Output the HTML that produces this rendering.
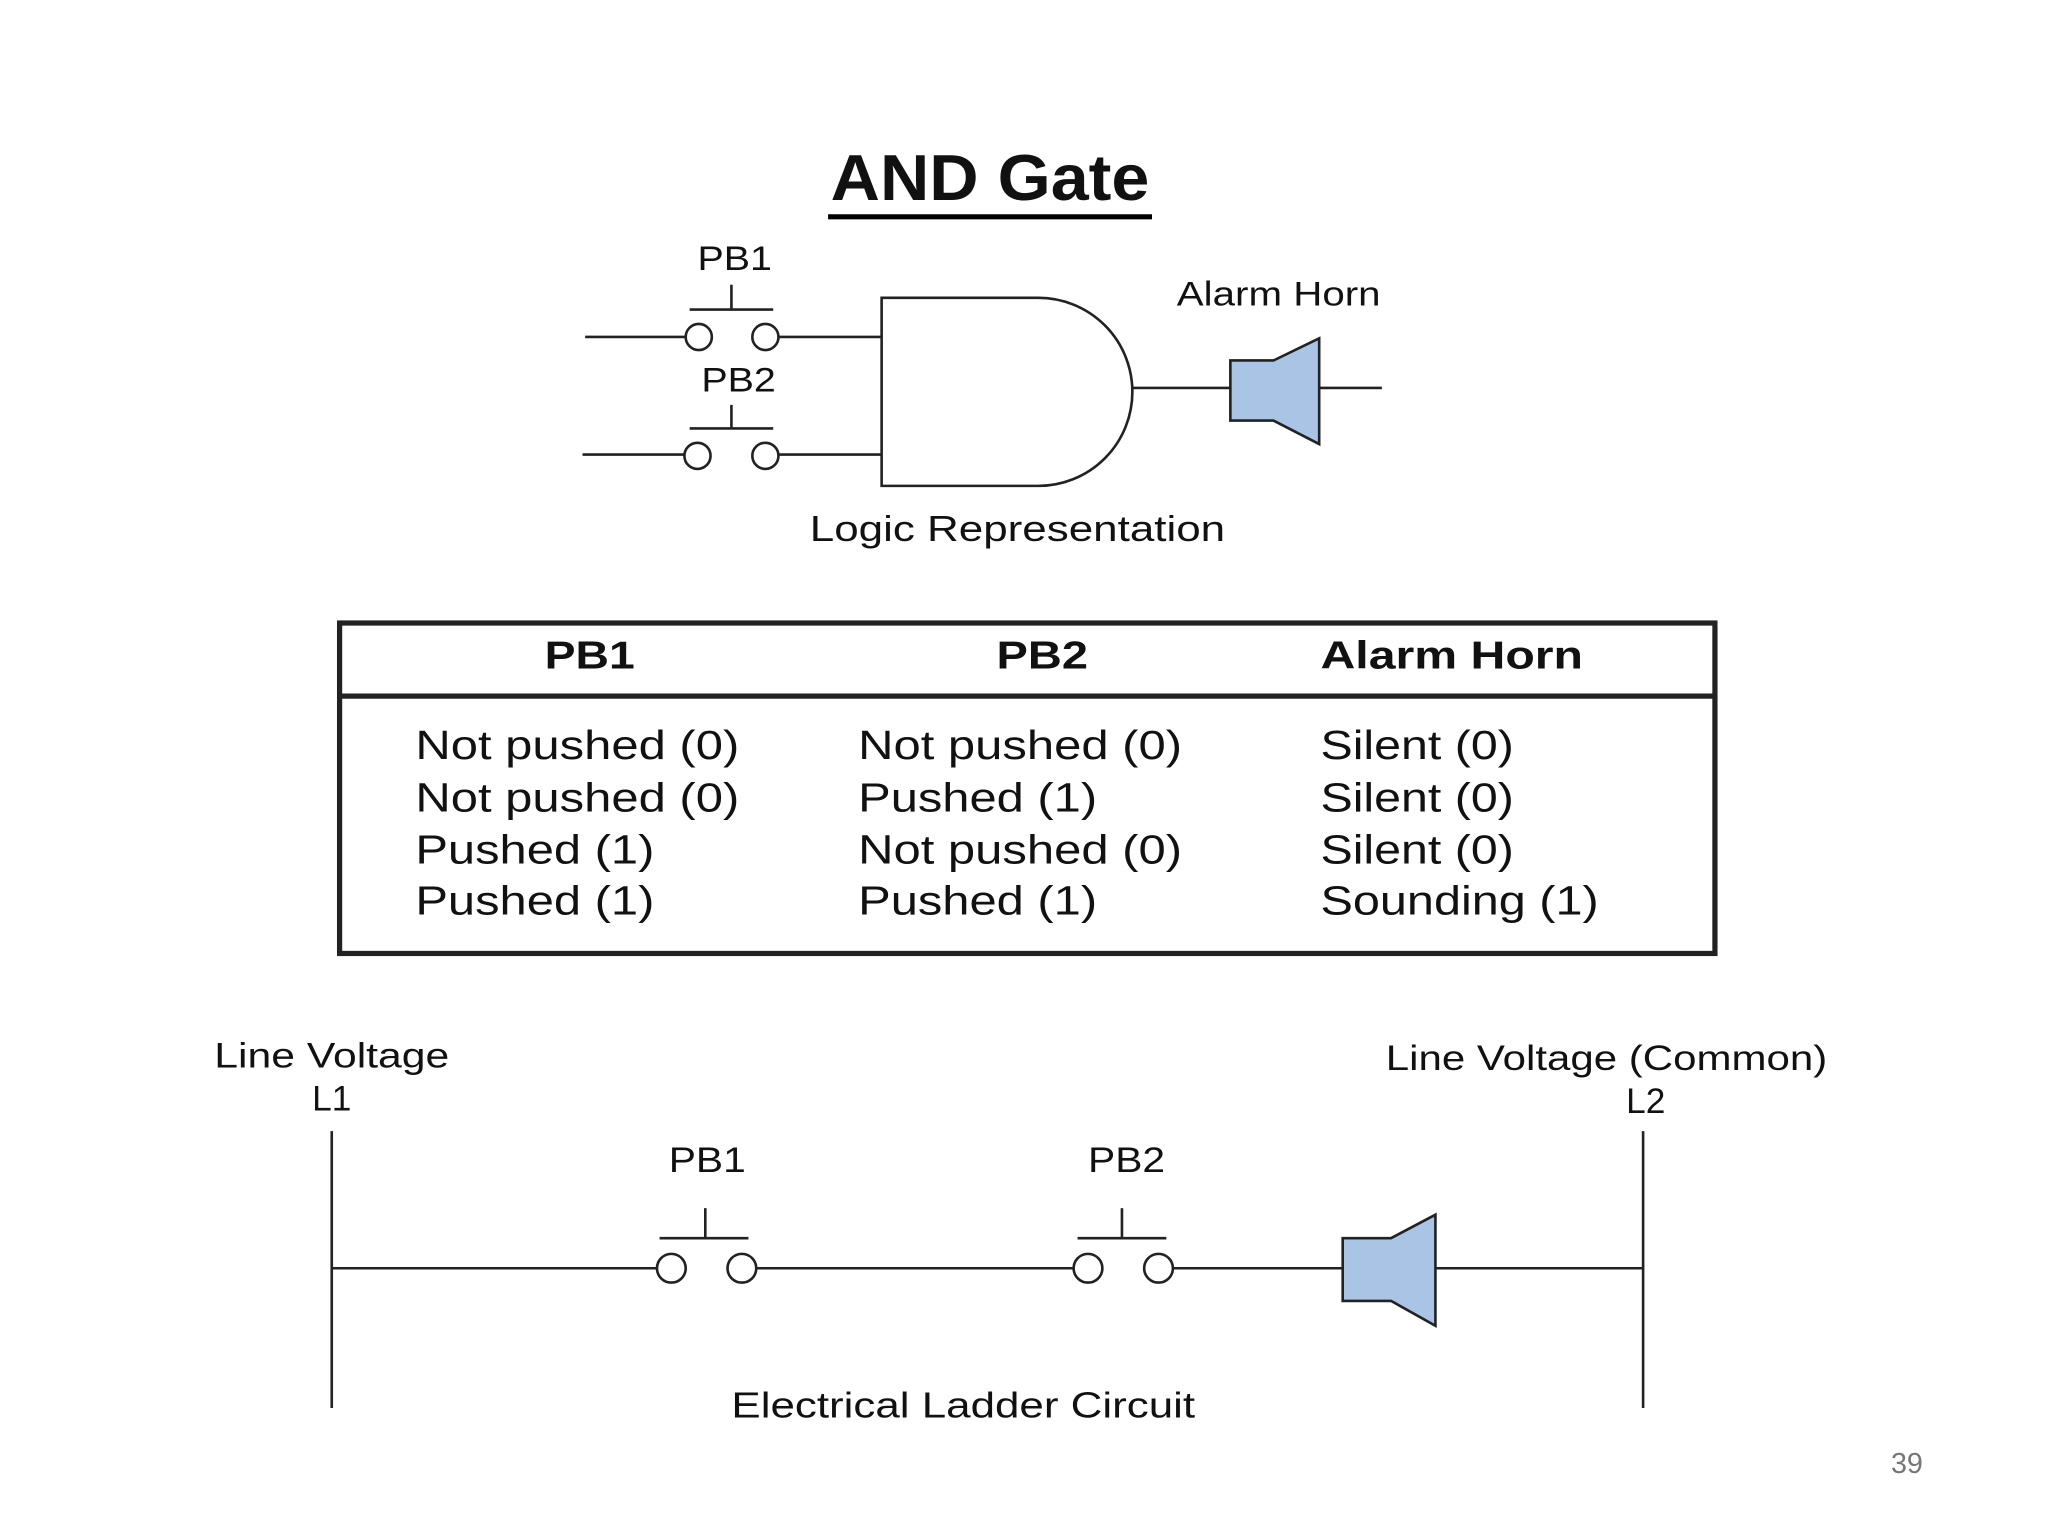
<!DOCTYPE html>
<html><head><meta charset="utf-8"><style>
html,body{margin:0;padding:0;background:#fff;}
svg{display:block;}
text{font-family:"Liberation Sans",Arial,sans-serif;fill:#111;}
</style></head><body>
<svg width="2048" height="1536" viewBox="0 0 1568 1176" xmlns="http://www.w3.org/2000/svg">
<rect width="1568" height="1176" fill="#fff"/>
<text x="636" y="140" font-size="50" font-weight="bold" dominant-baseline="middle" textLength="244" lengthAdjust="spacingAndGlyphs">AND Gate</text>
<line x1="634" y1="166" x2="882" y2="166" stroke="#000" stroke-width="4"/>
<g stroke="#222" stroke-width="2" fill="none">
<line x1="528" y1="237" x2="592" y2="237"/><line x1="560" y1="218" x2="560" y2="237"/>
<circle cx="535" cy="258" r="10" fill="#fff"/><circle cx="586" cy="258" r="10" fill="#fff"/>
<line x1="448" y1="258" x2="525" y2="258"/><line x1="596" y1="258" x2="675" y2="258"/>
<line x1="528" y1="328" x2="592" y2="328"/><line x1="560" y1="310" x2="560" y2="328"/>
<circle cx="534" cy="349" r="10" fill="#fff"/><circle cx="586" cy="349" r="10" fill="#fff"/>
<line x1="446" y1="348" x2="524" y2="348"/><line x1="596" y1="348" x2="675" y2="348"/>
<path d="M675,228 H795 A72,72 0 0 1 795,372 H675 Z"/>
<line x1="867" y1="297" x2="942" y2="297"/>
<line x1="1010" y1="297" x2="1058" y2="297"/>
<polygon points="942,276 975,276 1010,259 1010,340 975,322 942,322" fill="#a9c4e4"/>
</g>
<g font-size="26" dominant-baseline="middle" lengthAdjust="spacingAndGlyphs">
<text x="534" y="200" dominant-baseline="middle" textLength="57" lengthAdjust="spacingAndGlyphs">PB1</text>
<text x="537" y="293" dominant-baseline="middle" textLength="57" lengthAdjust="spacingAndGlyphs">PB2</text>
<text x="901" y="227" dominant-baseline="middle" textLength="156" lengthAdjust="spacingAndGlyphs">Alarm Horn</text>
</g>
<text x="620" y="407" font-size="28" dominant-baseline="middle" textLength="318" lengthAdjust="spacingAndGlyphs">Logic Representation</text>
<rect x="260" y="477" width="1053" height="253" fill="none" stroke="#222" stroke-width="4"/>
<line x1="260" y1="533" x2="1313" y2="533" stroke="#222" stroke-width="4"/>
<g font-size="30" font-weight="bold">
<text x="417" y="504" dominant-baseline="middle" textLength="69" lengthAdjust="spacingAndGlyphs">PB1</text>
<text x="763" y="504" dominant-baseline="middle" textLength="70" lengthAdjust="spacingAndGlyphs">PB2</text>
<text x="1011" y="504" dominant-baseline="middle" textLength="201" lengthAdjust="spacingAndGlyphs">Alarm Horn</text>
</g>
<g font-size="31">
<text x="318" y="573" dominant-baseline="middle" textLength="248" lengthAdjust="spacingAndGlyphs">Not pushed (0)</text>
<text x="318" y="613" dominant-baseline="middle" textLength="248" lengthAdjust="spacingAndGlyphs">Not pushed (0)</text>
<text x="318" y="653" dominant-baseline="middle" textLength="183" lengthAdjust="spacingAndGlyphs">Pushed (1)</text>
<text x="318" y="692" dominant-baseline="middle" textLength="183" lengthAdjust="spacingAndGlyphs">Pushed (1)</text>
<text x="657" y="573" dominant-baseline="middle" textLength="248" lengthAdjust="spacingAndGlyphs">Not pushed (0)</text>
<text x="657" y="613" dominant-baseline="middle" textLength="183" lengthAdjust="spacingAndGlyphs">Pushed (1)</text>
<text x="657" y="653" dominant-baseline="middle" textLength="248" lengthAdjust="spacingAndGlyphs">Not pushed (0)</text>
<text x="657" y="692" dominant-baseline="middle" textLength="183" lengthAdjust="spacingAndGlyphs">Pushed (1)</text>
<text x="1011" y="573" dominant-baseline="middle" textLength="148" lengthAdjust="spacingAndGlyphs">Silent (0)</text>
<text x="1011" y="613" dominant-baseline="middle" textLength="148" lengthAdjust="spacingAndGlyphs">Silent (0)</text>
<text x="1011" y="653" dominant-baseline="middle" textLength="148" lengthAdjust="spacingAndGlyphs">Silent (0)</text>
<text x="1011" y="692" dominant-baseline="middle" textLength="213" lengthAdjust="spacingAndGlyphs">Sounding (1)</text>
</g>
<g font-size="27">
<text x="164" y="810" dominant-baseline="middle" textLength="180" lengthAdjust="spacingAndGlyphs">Line Voltage</text>
<text x="254" y="843" dominant-baseline="middle" text-anchor="middle">L1</text>
<text x="1061" y="812" dominant-baseline="middle" textLength="338" lengthAdjust="spacingAndGlyphs">Line Voltage (Common)</text>
<text x="1260" y="845" dominant-baseline="middle" text-anchor="middle">L2</text>
<text x="512" y="890" dominant-baseline="middle" textLength="59" lengthAdjust="spacingAndGlyphs">PB1</text>
<text x="833" y="890" dominant-baseline="middle" textLength="59" lengthAdjust="spacingAndGlyphs">PB2</text>
<text x="560" y="1078" dominant-baseline="middle" font-size="28" textLength="355" lengthAdjust="spacingAndGlyphs">Electrical Ladder Circuit</text>
</g>
<g stroke="#222" stroke-width="2" fill="none">
<line x1="254" y1="866" x2="254" y2="1078"/>
<line x1="1258" y1="866" x2="1258" y2="1078"/>
<line x1="254" y1="971" x2="503" y2="971"/>
<circle cx="514" cy="971" r="11" fill="#fff"/><circle cx="568" cy="971" r="11" fill="#fff"/>
<line x1="505" y1="948" x2="573" y2="948"/><line x1="540" y1="925" x2="540" y2="948"/>
<line x1="579" y1="971" x2="822" y2="971"/>
<circle cx="833" cy="971" r="11" fill="#fff"/><circle cx="887" cy="971" r="11" fill="#fff"/>
<line x1="825" y1="948" x2="893" y2="948"/><line x1="859" y1="925" x2="859" y2="948"/>
<line x1="898" y1="971" x2="1028" y2="971"/>
<polygon points="1028,948 1065,948 1099,930 1099,1015 1065,996 1028,996" fill="#a9c4e4"/>
<line x1="1099" y1="971" x2="1258" y2="971"/>
</g>
<text x="1460" y="1122" font-size="22" text-anchor="middle" dominant-baseline="middle" style="fill:#777">39</text>
</svg>
</body></html>
